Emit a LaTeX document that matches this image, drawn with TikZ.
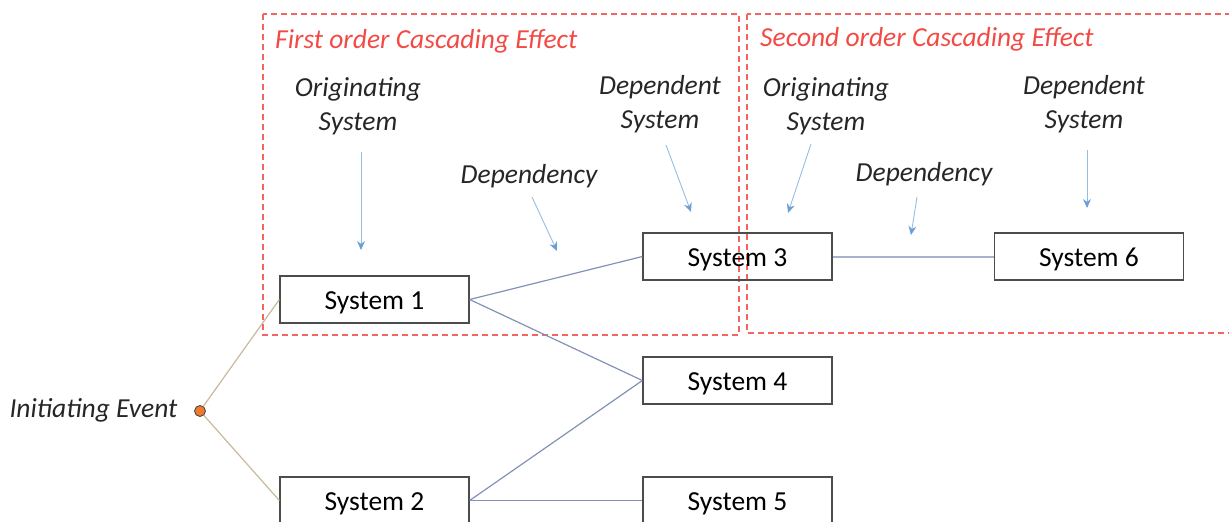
\documentclass[tikz,border=0pt]{standalone}
\usepackage{fontspec}
\setmainfont{Carlito}
\usetikzlibrary{arrows.meta}
\definecolor{redbox}{HTML}{F24A45}
\definecolor{linkc}{HTML}{8391B8}
\definecolor{tanc}{HTML}{C9B99B}
\definecolor{arrc}{HTML}{6A9FD6}
\definecolor{dotc}{HTML}{EE7A30}
\tikzset{
  sysbox/.style={draw=black!70, line width=1.3pt, minimum width=189pt, minimum height=47pt, inner sep=0pt, text height=24pt, text depth=5pt, font=\fontsize{27.5}{30}\selectfont},
  lbl/.style={font=\fontsize{27.5}{34}\selectfont\itshape, align=center, text=black!85},
  ttl/.style={font=\fontsize{27.5}{30}\selectfont\itshape, text=redbox, anchor=west, inner sep=0pt},
  region/.style={draw=redbox!85, line width=1.4pt, dash pattern=on 6pt off 4pt},
  link/.style={draw=linkc, line width=1.2pt},
  tan/.style={draw=tanc, line width=1.2pt},
  pointer/.style={draw=arrc!70, line width=0.9pt, -{Stealth[length=9pt,width=8pt,color=arrc,fill=arrc]}},
}
\begin{document}
\begin{tikzpicture}[x=1pt,y=-1pt]
\useasboundingbox (0,0) rectangle (1229,522);
\clip (0,0) rectangle (1229,522);
% regions
\draw[region] (263,14) rectangle (739,335);
\draw[region] (747,14) rectangle (1250,333);
\node[ttl] (t1) at (275,41) {First order Cascading Effect};
\node[ttl] (t2) at (760,39) {Second order Cascading Effect};
% systems
\node[sysbox] (s1) at (374.5,299.5) {System 1};
\node[sysbox] (s2) at (374.5,500.5) {System 2};
\node[sysbox] (s3) at (737.5,256.5) {System 3};
\node[sysbox] (s4) at (737.5,380.5) {System 4};
\node[sysbox] (s5) at (737.5,500.5) {System 5};
\node[sysbox] (s6) at (1089,256.5) {System 6};
% initiating event
\node[circle, fill=dotc, draw=black!75, line width=0.8pt, minimum size=11pt, inner sep=0pt] (ev) at (200,411) {};
\node[lbl, anchor=east] (evl) at (181,410) {Initiating Event};
% connectors
\draw[tan] (ev) -- (s1.west);
\draw[tan] (ev) -- (s2.west);
\draw[link] (s1.east) -- (s3.west);
\draw[link] (s1.east) -- (s4.west);
\draw[link] (s2.east) -- (s4.west);
\draw[link] (s2.east) -- (s5.west);
\draw[draw=linkc!70, line width=2pt] (s3.east) -- (s6.west);
% labels
\node[lbl] (o1) at (358,106) {Originating\\System};
\node[lbl] (d1) at (660,104) {Dependent\\System};
\node[lbl] (y1) at (529,176) {Dependency};
\node[lbl] (o2) at (826,106) {Originating\\System};
\node[lbl] (y2) at (924,174) {Dependency};
\node[lbl] (d2) at (1084,104) {Dependent\\System};
% pointer arrows
\coordinate (a1s) at (361,152); \coordinate (a1e) at (361,250);
\coordinate (a2s) at (532,197); \coordinate (a2e) at (557,251);
\coordinate (a3s) at (666,145); \coordinate (a3e) at (691,212);
\coordinate (a4s) at (811,144); \coordinate (a4e) at (788,213);
\coordinate (a5s) at (917,197); \coordinate (a5e) at (911,235);
\coordinate (a6s) at (1087,150); \coordinate (a6e) at (1087,208);
\draw[pointer] (a1s) -- (a1e);
\draw[pointer] (a2s) -- (a2e);
\draw[pointer] (a3s) -- (a3e);
\draw[pointer] (a4s) -- (a4e);
\draw[pointer] (a5s) -- (a5e);
\draw[pointer] (a6s) -- (a6e);
\end{tikzpicture}
\end{document}
